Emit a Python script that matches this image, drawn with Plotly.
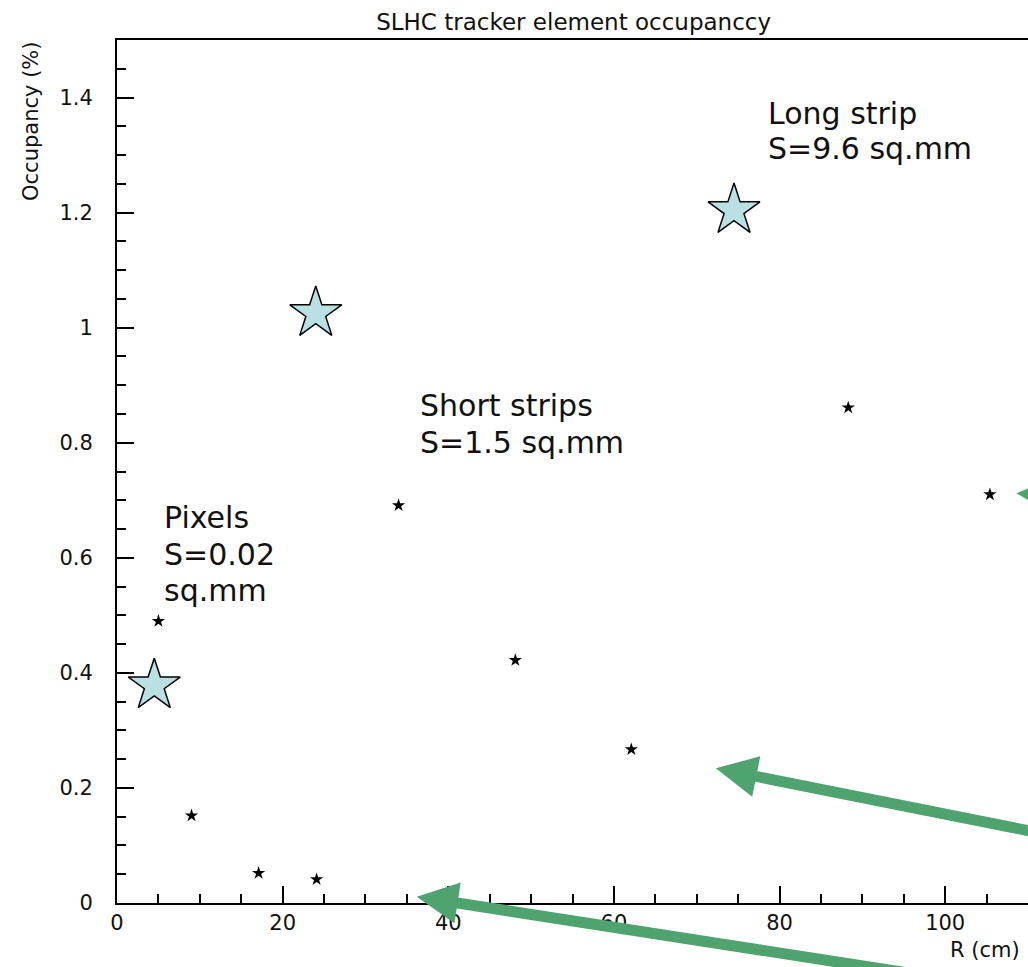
import plotly.graph_objects as go

# Small black stars (occupancy points)
r_small = [5.0, 9.0, 17.1, 24.1, 34.0, 48.1, 62.1, 88.3, 105.4]
occ_small = [0.490, 0.152, 0.052, 0.041, 0.691, 0.422, 0.267, 0.861, 0.710]

# Large light-blue stars
r_big = [4.5, 24.0, 74.5]
occ_big = [0.378, 1.025, 1.204]

x_ticks = [0, 20, 40, 60, 80, 100]
y_ticks = [0, 0.2, 0.4, 0.6, 0.8, 1.0, 1.2, 1.4]
y_tick_text = ["0", "0.2", "0.4", "0.6", "0.8", "1", "1.2", "1.4"]

FONT = "DejaVu Sans"
GREEN = "#4fa36f"

fig = go.Figure()
fig.add_trace(go.Scatter(
    x=r_small, y=occ_small, mode="markers",
    marker=dict(symbol="star", size=10, color="black", line=dict(width=0)),
    cliponaxis=False, showlegend=False))
fig.add_trace(go.Scatter(
    x=r_big, y=occ_big, mode="markers",
    marker=dict(symbol="star", size=39, color="#b9e0e3",
                line=dict(width=1.5, color="black")),
    cliponaxis=False, showlegend=False))

labels = [
    ("Long strip", 78.4, 1.373),
    ("S=9.6 sq.mm", 78.4, 1.311),
    ("Short strips", 36.3, 0.864),
    ("S=1.5 sq.mm", 36.3, 0.801),
    ("Pixels", 5.4, 0.670),
    ("S=0.02", 5.4, 0.606),
    ("sq.mm", 5.4, 0.544),
]
annotations = []
for t, x, y in labels:
    annotations.append(dict(text=t, x=x, y=y, xref="x", yref="y",
                            xanchor="left", yanchor="middle", showarrow=False,
                            font=dict(family=FONT, size=30, color="#111111")))

# arrows: tip (x, y) and tail (ax, ay), in data units
arrows = [
    (72.3, 0.234, 122.1, 0.091),
    (36.2, 0.011, 108.7, -0.151),
    (108.6, 0.712, 126.7, 0.697),
]
for x, y, ax, ay in arrows:
    annotations.append(dict(text="", x=x, y=y, xref="x", yref="y",
                            ax=ax, ay=ay, axref="x", ayref="y",
                            showarrow=True, arrowhead=2,
                            arrowsize=0.75, arrowwidth=11, arrowcolor=GREEN,
                            standoff=0, startstandoff=0))

annotations.append(dict(text="Occupancy (%)", textangle=-90, xref="paper", yref="paper",
                        x=-0.095, y=1.0, xanchor="center", yanchor="top",
                        showarrow=False, font=dict(family=FONT, size=21, color="#111111")))
annotations.append(dict(text="R (cm)", xref="paper", yref="paper",
                        x=0.912, y=-0.055, xanchor="left", yanchor="middle",
                        showarrow=False, font=dict(family=FONT, size=21, color="#111111")))

fig.update_layout(
    width=1028, height=967,
    margin=dict(l=117, r=0, t=40, b=64),
    paper_bgcolor="white", plot_bgcolor="white",
    title=dict(text="SLHC tracker element occupanccy", xref="container", yref="container",
               x=0.558, y=0.977, xanchor="center", yanchor="middle",
               font=dict(family=FONT, size=23, color="#111111")),
    annotations=annotations,
    showlegend=False,
)
fig.update_xaxes(range=[0, 110], showgrid=False, zeroline=False,
                 showline=True, linecolor="black", linewidth=2, mirror=True,
                 ticks="inside", ticklen=17, tickwidth=2, tickcolor="black",
                 tickvals=x_ticks, ticktext=[str(v) for v in x_ticks],
                 tickfont=dict(family=FONT, size=21, color="#111111"),
                 minor=dict(dtick=5, ticks="inside", ticklen=9, tickwidth=2, tickcolor="black"))
fig.update_yaxes(range=[0, 1.5], showgrid=False, zeroline=False,
                 showline=True, linecolor="black", linewidth=2,
                 ticks="inside", ticklen=17, tickwidth=2, tickcolor="black",
                 tickvals=y_ticks, ticktext=y_tick_text, ticklabelstandoff=18,
                 tickfont=dict(family=FONT, size=21, color="#111111"),
                 minor=dict(dtick=0.05, ticks="inside", ticklen=9, tickwidth=2, tickcolor="black"))

fig.write_html("out.html")
